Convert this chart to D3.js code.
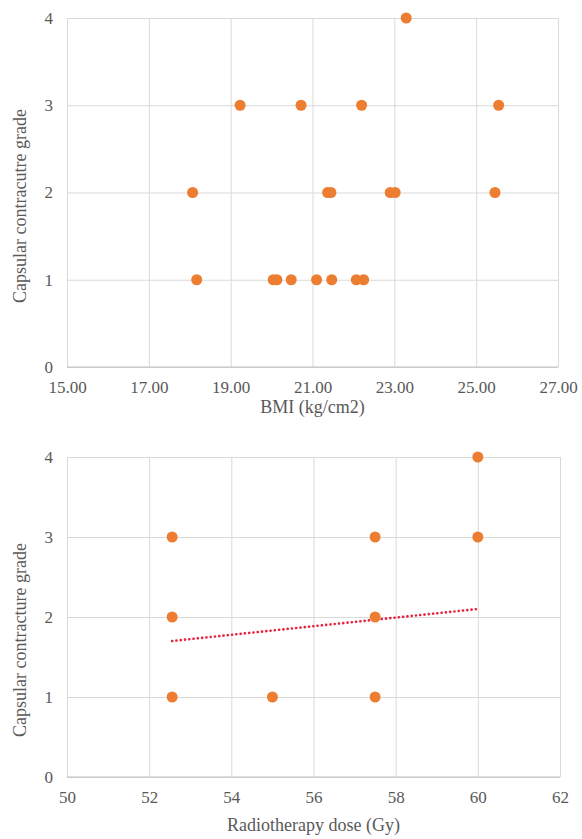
<!DOCTYPE html>
<html>
<head>
<meta charset="utf-8">
<script src="https://cdn.jsdelivr.net/npm/d3@7"></script>
<style>
  body { margin: 0; background: #fff; }
  svg text { font-family: "Liberation Serif", "Times New Roman", serif; fill: #595959; }
</style>
</head>
<body>
<svg width="582" height="839"></svg>
<script>
// top panel: BMI vs grade
var bmiValues = [23.29, 19.23, 20.72, 22.20, 25.55, 18.07, 21.37, 21.45, 22.90, 23.02, 25.46,
                 18.17, 20.04, 20.13, 20.48, 21.10, 21.47, 22.07, 22.25];
var bmiGrades = [4, 3, 3, 3, 3, 2, 2, 2, 2, 2, 2, 1, 1, 1, 1, 1, 1, 1, 1];
var bmiTicks = [15, 17, 19, 21, 23, 25, 27];

// bottom panel: radiotherapy dose vs grade
var doseValues = [52.56, 52.56, 52.56, 55, 57.5, 57.5, 57.5, 60, 60];
var doseGrades = [3, 2, 1, 1, 3, 2, 1, 4, 3];
var doseTicks = [50, 52, 54, 56, 58, 60, 62];
var trendX = [52.56, 60];
var trendY = [1.70, 2.10];

var gradeTicks = [0, 1, 2, 3, 4];

var svg = d3.select("svg").attr("font-family", "Liberation Serif, serif");

function panel(opts) {
    var x = d3.scaleLinear().domain(opts.xDomain).range([opts.left, opts.right]);
    var y = d3.scaleLinear().domain([0, 4]).range([opts.bottom, opts.top]);
    var g = svg.append("g");

    // vertical gridlines + x tick labels
    var xa = g.append("g")
        .attr("transform", "translate(0," + opts.bottom + ")")
        .call(d3.axisBottom(x).tickValues(opts.xTicks)
            .tickSize(-(opts.bottom - opts.top))
            .tickPadding(14)
            .tickFormat(opts.xFormat));
    xa.attr("font-family", null).attr("font-size", null);
    xa.select(".domain").remove();
    xa.selectAll("line").attr("stroke", "#d9d9d9");
    xa.selectAll("text").style("font-size", "17px").attr("fill", "#595959");

    // horizontal gridlines + y tick labels
    var ya = g.append("g")
        .attr("transform", "translate(" + opts.left + ",0)")
        .call(d3.axisLeft(y).tickValues(gradeTicks)
            .tickSize(-(opts.right - opts.left))
            .tickPadding(14)
            .tickFormat(d3.format("d")));
    ya.attr("font-family", null).attr("font-size", null);
    ya.select(".domain").remove();
    ya.selectAll("line").attr("stroke", "#d9d9d9");
    ya.selectAll("text").style("font-size", "17px").attr("fill", "#595959");

    // x axis line
    g.append("line")
        .attr("x1", opts.left).attr("x2", opts.right)
        .attr("y1", y(0)).attr("y2", y(0))
        .attr("stroke", "#bfbfbf");

    if (opts.trend) {
        g.append("line")
            .attr("x1", x(opts.trend[0][0])).attr("y1", y(opts.trend[1][0]))
            .attr("x2", x(opts.trend[0][1])).attr("y2", y(opts.trend[1][1]))
            .attr("stroke", "#e8233c")
            .attr("stroke-width", 2.6)
            .attr("stroke-linecap", "round")
            .attr("stroke-dasharray", "0.1,4.2");
    }

    g.selectAll("circle")
        .data(opts.xs)
        .enter().append("circle")
        .attr("cx", function (d) { return x(d); })
        .attr("cy", function (d, i) { return y(opts.ys[i]); })
        .attr("r", 5.5)
        .attr("fill", "#ed7d31");

    g.append("text")
        .attr("x", (opts.left + opts.right) / 2)
        .attr("y", opts.bottom + opts.xTitleGap)
        .attr("text-anchor", "middle")
        .style("font-size", "18px")
        .text(opts.xTitle);

    g.append("text")
        .attr("transform", "translate(26," + opts.yTitleMid + ") rotate(-90)")
        .attr("text-anchor", "middle")
        .style("font-size", "18px")
        .text(opts.yTitle);
}

panel({
    xDomain: [15, 27], xTicks: bmiTicks, xFormat: d3.format(".2f"),
    left: 67, right: 558, top: 18, bottom: 367,
    xs: bmiValues, ys: bmiGrades, xTitleGap: 46,
    xTitle: "BMI (kg/cm2)", yTitle: "Capsular contracutre grade", yTitleMid: 206
});

panel({
    xDomain: [50, 62], xTicks: doseTicks, xFormat: d3.format("d"),
    left: 67, right: 560, top: 457, bottom: 777,
    xs: doseValues, ys: doseGrades, trend: [trendX, trendY], xTitleGap: 54,
    xTitle: "Radiotherapy dose (Gy)", yTitle: "Capsular contracture grade", yTitleMid: 640
});
</script>
</body>
</html>
